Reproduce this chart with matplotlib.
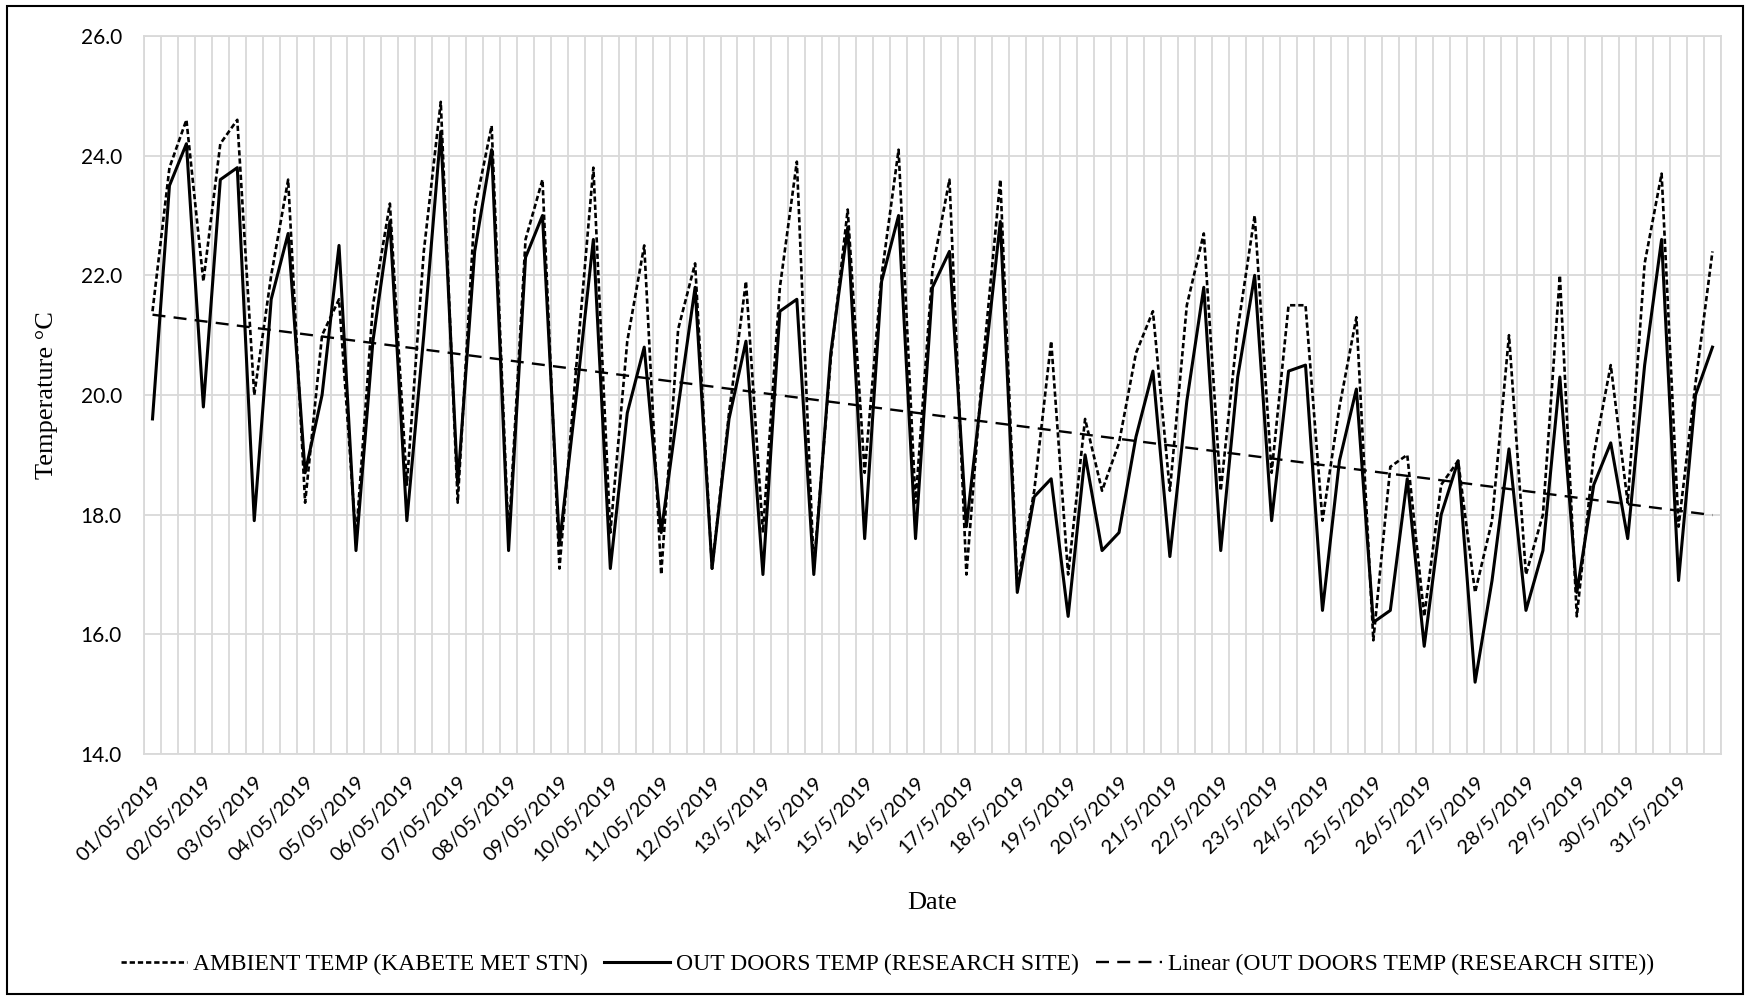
import numpy as np
import matplotlib
matplotlib.use('Agg')
import matplotlib.pyplot as plt
from matplotlib.patches import Rectangle

# three readings a day, 1-31 May 2019
ambient = [21.4, 23.8, 24.6, 21.9, 24.2, 24.6, 20.0, 22.0, 23.6, 18.2,
           21.0, 21.6, 17.6, 21.5, 23.2, 18.5, 22.4, 24.9, 18.2, 23.1,
           24.5, 17.6, 22.6, 23.6, 17.1, 20.5, 23.8, 17.7, 20.9, 22.5,
           17.0, 21.1, 22.2, 17.1, 19.7, 21.9, 17.7, 21.8, 23.9, 17.1,
           20.6, 23.1, 18.7, 22.0, 24.1, 18.2, 22.1, 23.6, 17.0, 20.6,
           23.6, 16.8, 18.4, 20.9, 17.0, 19.6, 18.4, 19.2, 20.7, 21.4,
           18.4, 21.5, 22.7, 18.4, 21.1, 23.0, 18.7, 21.5, 21.5, 17.9,
           19.8, 21.3, 15.9, 18.8, 19.0, 16.3, 18.5, 18.9, 16.7, 17.9,
           21.0, 17.0, 18.0, 22.0, 16.3, 19.0, 20.5, 18.2, 22.2, 23.7,
           17.8, 20.2, 22.4]
outdoor = [19.6, 23.5, 24.2, 19.8, 23.6, 23.8, 17.9, 21.6, 22.7, 18.7,
           20.0, 22.5, 17.4, 20.9, 22.9, 17.9, 21.0, 24.4, 18.5, 22.4,
           24.1, 17.4, 22.3, 23.0, 17.5, 20.0, 22.6, 17.1, 19.7, 20.8,
           17.7, 19.8, 21.8, 17.1, 19.6, 20.9, 17.0, 21.4, 21.6, 17.0,
           20.7, 22.8, 17.6, 21.9, 23.0, 17.6, 21.8, 22.4, 17.8, 20.3,
           22.9, 16.7, 18.3, 18.6, 16.3, 19.0, 17.4, 17.7, 19.3, 20.4,
           17.3, 19.9, 21.8, 17.4, 20.3, 22.0, 17.9, 20.4, 20.5, 16.4,
           18.9, 20.1, 16.2, 16.4, 18.6, 15.8, 18.0, 18.9, 15.2, 16.9,
           19.1, 16.4, 17.4, 20.3, 16.7, 18.5, 19.2, 17.6, 20.5, 22.6,
           16.9, 20.0, 20.8]
date_labels = ['01/05/2019', '02/05/2019', '03/05/2019', '04/05/2019', '05/05/2019',
               '06/05/2019', '07/05/2019', '08/05/2019', '09/05/2019', '10/05/2019',
               '11/05/2019', '12/05/2019'] + ['%d/5/2019' % d for d in range(13, 32)]

x = np.arange(len(outdoor))
slope, intercept = np.polyfit(x, outdoor, 1)
trend = slope * x + intercept

fig = plt.figure(figsize=(17.5, 9.98), dpi=100)
ax = fig.add_axes([0.0823, 0.2445, 0.9011, 0.7194])

ax.plot(x, ambient, color='black', lw=1.9, linestyle=(0, (2.0, 1.1)),
        label='AMBIENT TEMP (KABETE MET STN)')
ax.plot(x, outdoor, color='black', lw=2.2, label='OUT DOORS TEMP (RESEARCH SITE)')
ax.plot(x, trend, color='black', lw=1.7, linestyle=(0, (5.5, 3.5)),
        label='Linear (OUT DOORS TEMP (RESEARCH SITE))')

ax.set_xlim(-0.5, len(x) - 0.5)
ax.set_ylim(14, 26)
ax.set_yticks(np.arange(14, 26.1, 2))
ax.set_yticklabels(['%.1f' % v for v in np.arange(14, 26.1, 2)],
                   fontsize=15, family='Lato')
ax.set_xticks(x[::3])
ax.set_xticklabels(date_labels, rotation=45, ha='right', rotation_mode='anchor',
                   fontsize=14.5, family='Lato')
ax.set_xticks(np.arange(-0.5, len(x), 1), minor=True)
ax.tick_params(axis='both', which='both', length=0)
ax.tick_params(axis='y', pad=16)
ax.tick_params(axis='x', pad=14)

ax.grid(axis='y', which='major', color='#d9d9d9', lw=1.3)
ax.grid(axis='x', which='minor', color='#d9d9d9', lw=1.3)
ax.grid(axis='x', which='major', visible=False)
ax.set_axisbelow(True)
for s in ax.spines.values():
    s.set_color('#d9d9d9')
    s.set_linewidth(1.3)

ax.set_xlabel('Date', fontsize=19, family='Liberation Serif', labelpad=20)
ax.set_ylabel('Temperature °C', fontsize=19, family='Liberation Serif', labelpad=16)

ax.legend(loc='center', bbox_to_anchor=(0.507, 0.034), bbox_transform=fig.transFigure,
          ncol=3, frameon=False, prop={'family': 'Liberation Serif', 'size': 17},
          handlelength=2.8, handletextpad=0.25, columnspacing=0.7)

fig.patches.append(Rectangle((0.004, 0.004), 0.992, 0.99, transform=fig.transFigure,
                             fill=False, edgecolor='black', lw=1.5))

plt.savefig('out.png', dpi=100)
